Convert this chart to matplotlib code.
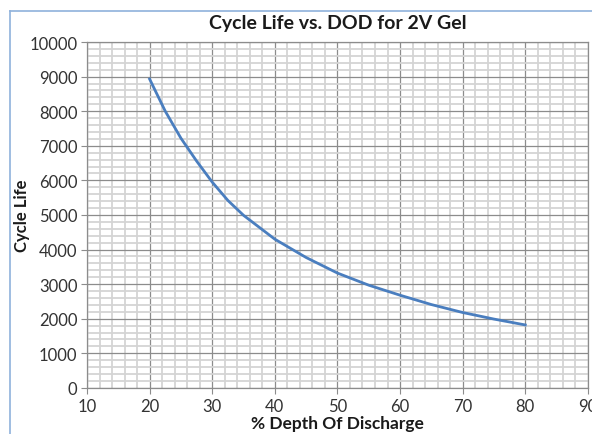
"""
Cycle life vs depth of discharge for a 2V gel cell, redrawn from the
datasheet chart.
"""

import matplotlib
matplotlib.use('Agg')
import matplotlib.pyplot as plt
from matplotlib.ticker import MultipleLocator
from matplotlib.lines import Line2D

# values
dod = [20, 22.5, 25, 27.5, 30, 32.5, 35, 40, 45, 50, 55, 60, 65, 70, 75, 80]
cycles = [8930, 8000, 7220, 6560, 5950, 5420, 4990, 4300, 3770, 3320, 2970, 2680, 2410, 2180, 1990, 1820]

x_ticks = [10, 20, 30, 40, 50, 60, 70, 80, 90]
y_ticks = [0, 1000, 2000, 3000, 4000, 5000, 6000, 7000, 8000, 9000, 10000]

plt.rcParams['font.family'] = ['Lato', 'DejaVu Sans']

fig = plt.figure(figsize=(5.92, 4.35), dpi=100)
ax = fig.add_axes([0.147, 0.106, 0.846, 0.795])

ax.set_xlim(10, 90)
ax.set_ylim(0, 10000)
ax.set_xticks(x_ticks)
ax.set_yticks(y_ticks)
ax.xaxis.set_minor_locator(MultipleLocator(2))
ax.yaxis.set_minor_locator(MultipleLocator(200))

ax.grid(which='minor', color='#d4d4d4', linewidth=1.3, zorder=0)
ax.grid(which='major', color='#8c8c8c', linewidth=0.9, zorder=1)
ax.set_axisbelow(True)

for side in ['left', 'bottom', 'top', 'right']:
    ax.spines[side].set_color('#8c8c8c')
    ax.spines[side].set_linewidth(0.9)

ax.tick_params(which='major', direction='out', length=4, color='#8c8c8c',
               labelsize=12, labelcolor='#333333', pad=3)
ax.tick_params(which='minor', length=0)

ax.plot(dod, cycles, color='#4a7ebf', linewidth=2.0, zorder=3)

fig.text(338/592, 1 - 24/435, 'Cycle Life vs. DOD for 2V Gel', fontsize=14,
         fontweight='bold', ha='center', va='center', color='#1a1a1a')
ax.set_xlabel('% Depth Of Discharge', fontsize=12.5, fontweight='bold',
              labelpad=1, color='#1a1a1a')
# y label sits a bit away from the tick labels in the original
fig.text(22/592, 1 - 216/435, 'Cycle Life', fontsize=12, fontweight='bold',
         rotation=90, ha='center', va='center', color='#1a1a1a')

# chart area outline (cropped in the original)
border = '#8fb2dc'
fig.add_artist(Line2D([10/592, 1.0], [1 - 12/435, 1 - 12/435], color=border, linewidth=1.2))
fig.add_artist(Line2D([10/592, 10/592], [0.0, 1 - 12/435], color=border, linewidth=1.2))

plt.savefig('out.png', dpi=100)
plt.close()
